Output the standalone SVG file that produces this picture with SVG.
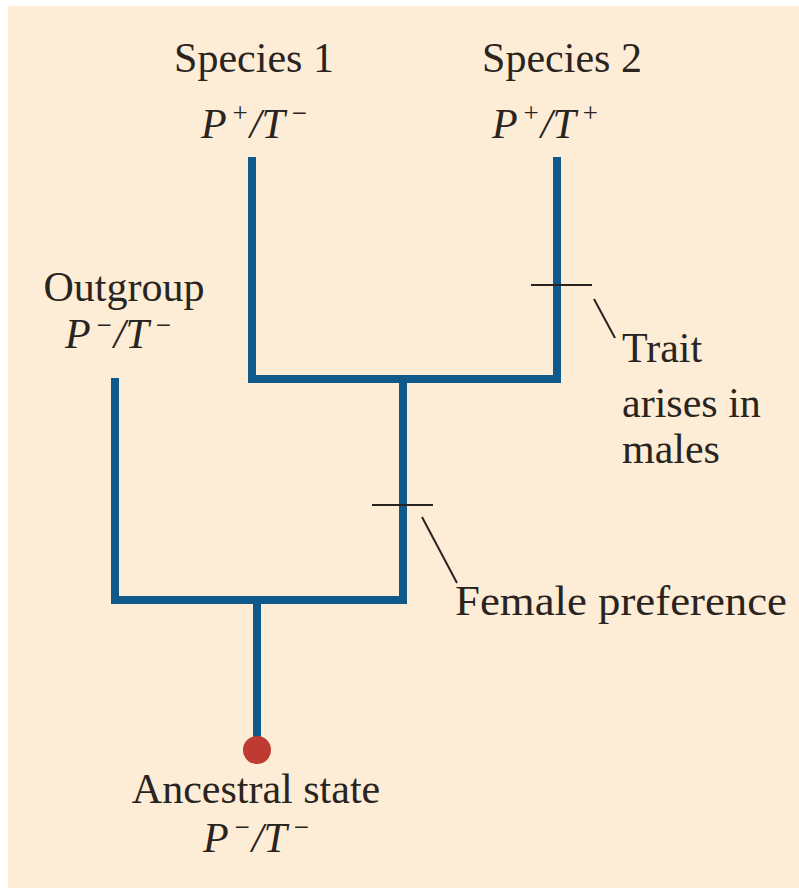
<svg xmlns="http://www.w3.org/2000/svg" width="799" height="888" viewBox="0 0 799 888">
<style>
.t{font-family:"Liberation Serif","Times New Roman",serif;font-size:42px;fill:#2a2420}
.i{font-style:italic}
.sup{font-size:27px;font-style:normal}
.br{fill:none;stroke:#0f5a8a;stroke-width:8;stroke-linecap:butt;stroke-linejoin:miter}
.tk{fill:none;stroke:#2a2420;stroke-width:2}
</style>
<rect x="0" y="0" width="799" height="888" fill="#ffffff"/>
<rect x="8" y="6" width="791" height="882" fill="#fdecd6"/>
<g id="connectors">
<polyline class="br" points="252,157 252,379 557,379 557,157"/>
<polyline class="br" points="115,378 115,600 403,600 403,379"/>
<line class="br" x1="257" y1="600" x2="257" y2="742"/>
<line class="tk" x1="531" y1="285" x2="592" y2="285"/>
<line class="tk" x1="594" y1="299" x2="615" y2="338"/>
<line class="tk" x1="372" y1="505" x2="433" y2="505"/>
<line class="tk" x1="422" y1="517" x2="457" y2="583"/>
</g>
<g id="species1">
<text class="t" x="254" y="72" text-anchor="middle">Species 1</text>
<text class="t i" x="254" y="138" text-anchor="middle">P<tspan class="sup" dx="6" dy="-16">+</tspan><tspan dx="2" dy="16">/T</tspan><tspan class="sup" dx="7" dy="-16">−</tspan></text>
</g>
<g id="species2">
<text class="t" x="562" y="72" text-anchor="middle">Species 2</text>
<text class="t i" x="545" y="138" text-anchor="middle">P<tspan class="sup" dx="6" dy="-16">+</tspan><tspan dx="2" dy="16">/T</tspan><tspan class="sup" dx="7" dy="-16">+</tspan></text>
</g>
<g id="outgroup">
<text class="t" x="124" y="301" text-anchor="middle">Outgroup</text>
<text class="t i" x="118" y="348" text-anchor="middle">P<tspan class="sup" dx="6" dy="-14">−</tspan><tspan dx="2" dy="14">/T</tspan><tspan class="sup" dx="7" dy="-14">−</tspan></text>
</g>
<g id="trait">
<text class="t" x="622" y="362">Trait</text>
<text class="t" x="622" y="417">arises in</text>
<text class="t" x="622" y="463">males</text>
</g>
<g id="female">
<text class="t" x="455" y="615" textLength="332" lengthAdjust="spacingAndGlyphs">Female preference</text>
</g>
<g id="ancestral">
<circle cx="257" cy="750" r="14" fill="#bf3a30"/>
<text class="t" x="256" y="803" text-anchor="middle">Ancestral state</text>
<text class="t i" x="256" y="852" text-anchor="middle">P<tspan class="sup" dx="6" dy="-16">−</tspan><tspan dx="2" dy="16">/T</tspan><tspan class="sup" dx="7" dy="-16">−</tspan></text>
</g>
</svg>
